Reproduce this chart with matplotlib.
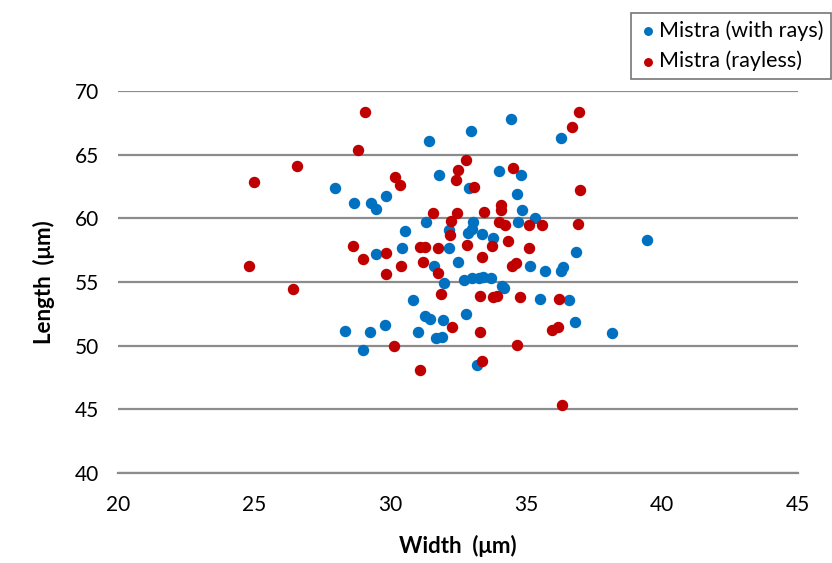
import matplotlib
matplotlib.use("Agg")
import matplotlib.pyplot as plt

plt.rcParams['font.family'] = ['Lato', 'DejaVu Sans']

# Mistra (with rays)
rays_w = [27.98, 28.68, 29.3, 29.49, 29.85, 29.0, 28.35, 29.26, 29.8, 29.5,
          30.55, 30.44, 30.85, 31.03, 31.29, 31.47, 31.43, 31.32, 31.62, 31.8,
          31.7, 31.9, 31.99, 31.95, 32.17, 32.17, 32.98, 32.9, 33.05, 33.01,
          32.87, 32.5, 32.79, 32.72, 33.01, 33.27, 33.42, 33.2, 33.38, 33.79,
          33.7, 34.0, 34.1, 34.2, 34.45, 34.67, 34.8, 34.85, 34.7, 35.15,
          35.33, 35.5, 35.7, 36.3, 36.3, 36.36, 36.58, 36.8, 36.84, 38.16,
          39.45]
rays_l = [62.4, 61.2, 61.2, 60.73, 61.75, 49.65, 51.15, 51.07, 51.6, 57.2,
          59.0, 57.67, 53.6, 51.07, 52.3, 52.1, 66.07, 59.7, 56.25, 63.4,
          50.6, 50.7, 54.9, 52.0, 59.08, 57.67, 66.86, 62.4, 59.7, 59.2,
          58.85, 56.6, 52.5, 55.15, 55.3, 55.3, 55.4, 48.5, 58.8, 58.5,
          55.3, 63.7, 54.7, 54.5, 67.8, 61.9, 63.4, 60.65, 59.7, 56.3,
          60.0, 53.66, 55.9, 66.3, 55.9, 56.2, 53.6, 51.9, 57.4, 51.0,
          58.3]

# Mistra (rayless)
rayless_w = [25.0, 24.82, 26.58, 26.43, 29.08, 28.82, 28.64, 29.0, 30.18, 30.37,
             29.85, 29.85, 30.15, 30.4, 31.1, 31.29, 31.2, 31.1, 31.58, 31.76,
             31.76, 31.87, 32.24, 32.2, 32.28, 32.5, 32.43, 32.79, 32.46, 32.83,
             33.09, 33.3, 33.38, 33.46, 33.3, 33.38, 33.79, 33.75, 33.93, 34.0,
             34.08, 34.08, 34.23, 34.34, 34.52, 34.49, 34.63, 34.67, 34.78, 35.1,
             35.1, 35.59, 35.96, 36.18, 36.2, 36.32, 36.7, 36.95, 36.99, 36.9]
rayless_l = [62.85, 56.25, 64.1, 54.45, 68.4, 65.35, 57.8, 56.8, 63.25, 62.6,
             57.3, 55.6, 50.0, 56.25, 57.75, 57.75, 56.6, 48.1, 60.4, 57.67,
             55.7, 54.05, 59.8, 58.7, 51.5, 63.8, 63.0, 64.6, 60.4, 57.9,
             62.5, 53.9, 56.95, 60.5, 51.1, 48.8, 53.8, 57.8, 53.9, 59.7,
             61.05, 60.65, 59.5, 58.2, 63.95, 56.3, 56.5, 50.05, 53.8, 59.5,
             57.7, 59.5, 51.2, 51.5, 53.66, 45.33, 67.2, 68.4, 62.2, 59.6]

fig = plt.figure(figsize=(8.32, 5.63), dpi=100)
ax = fig.add_axes([0.142, 0.16, 0.817, 0.678])

ax.scatter(rays_w, rays_l, s=52, color='#0070C0', label='Mistra (with rays)', zorder=3)
ax.scatter(rayless_w, rayless_l, s=52, color='#C00000', label='Mistra (rayless)', zorder=3)

ax.set_xlim(20, 45)
ax.set_ylim(40, 70)
ax.set_xticks(range(20, 46, 5))
ax.set_yticks(range(40, 71, 5))
ax.yaxis.grid(True, color='#8c8c8c', linewidth=1.6)
ax.set_axisbelow(True)
for s in ['left', 'right', 'top']:
    ax.spines[s].set_visible(False)
ax.spines['bottom'].set_color('#8c8c8c')
ax.spines['bottom'].set_linewidth(1.6)
ax.tick_params(axis='x', length=0, labelsize=15, pad=16)
ax.tick_params(axis='y', length=0, labelsize=15, pad=14)

ax.set_xlabel('Width  (μm)', fontsize=16, fontweight='bold', labelpad=14)
ax.set_ylabel('Length  (μm)', fontsize=16, fontweight='bold', labelpad=14)

leg = fig.legend(loc='upper right', bbox_to_anchor=(0.999, 0.977), fontsize=15.5,
                 handletextpad=0.05, handlelength=0.9, borderpad=0.35,
                 labelspacing=0.45, borderaxespad=0.0,
                 fancybox=False, edgecolor='#555555', markerscale=0.75)
leg.get_frame().set_linewidth(1.2)

fig.savefig('out.png', dpi=100)
